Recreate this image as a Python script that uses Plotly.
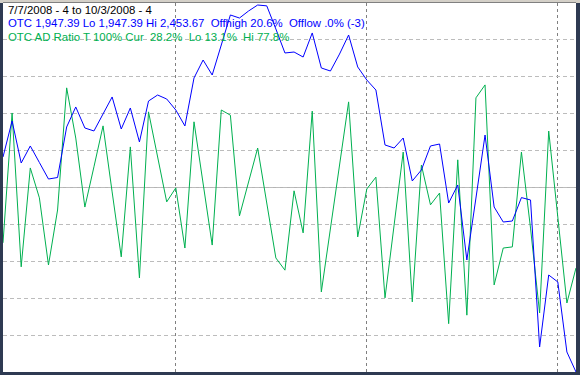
import plotly.graph_objects as go
import pandas as pd

# Trading days 7/7/2008 .. 10/3/2008 (Labor Day 9/1 closed)
dates = [d.strftime("%m/%d/%Y") for d in pd.bdate_range("2008-07-07", "2008-10-03") if d.strftime("%Y-%m-%d") != "2008-09-01"]

# OTC (Nasdaq composite) closes
otc_close = [2244.0, 2293.7, 2235.7, 2259.2, 2236.4, 2213.6, 2215.7, 2285.4, 2313.0, 2284.0,
             2279.9, 2303.3, 2326.8, 2282.6, 2311.6, 2264.7, 2321.2, 2329.5, 2324.0, 2308.8,
             2286.8, 2353.0, 2377.8, 2357.1, 2398.5, 2439.9, 2435.7, 2445.4, 2453.67, 2452.5,
             2420.6, 2387.5, 2388.8, 2381.9, 2415.1, 2366.8, 2362.6, 2386.0, 2412.3, 2368.2,
             2350.2, 2336.4, 2260.6, 2256.4, 2270.2, 2210.9, 2226.1, 2259.2, 2261.9, 2180.5,
             2205.4, 2101.9, 2187.4, 2274.3, 2175.0, 2154.3, 2155.7, 2188.0, 2184.7, 1981.9,
             2081.2, 2071.6, 1975.0, 1947.39]

# OTC advance/decline ratio (%)
ad_ratio = [35.0, 70.2, 28.5, 55.3, 47.2, 29.0, 43.9, 77.0, 63.4, 44.7,
            55.6, 66.7, 48.8, 31.2, 61.0, 25.5, 70.5, 58.0, 46.1, 49.9,
            33.6, 67.8, 51.2, 34.4, 71.0, 69.6, 42.3, 51.5, 60.7, 45.8,
            30.9, 27.6, 49.1, 37.7, 70.7, 21.7, 38.8, 55.8, 73.2, 36.6,
            49.6, 52.8, 20.1, 39.8, 59.6, 19.0, 56.1, 45.3, 48.5, 13.1,
            57.5, 15.4, 74.3, 77.8, 23.6, 33.6, 33.9, 59.6, 39.0, 16.0,
            65.3, 42.0, 18.7, 28.2]

title_lines = [
    ("7/7/2008 - 4 to 10/3/2008 - 4", "#000000"),
    ("OTC 1,947.39 Lo 1,947.39 Hi 2,453.67  Offhigh 20.6%  Offlow .0% (-3)", "#0000ff"),
    ("OTC AD Ratio T 100% Cur  28.2%  Lo 13.1%  Hi 77.8%", "#00b050"),
]

W, H = 580, 375
ml, mr, mt, mb = 3, 4, 3, 3
pw, ph = W - ml - mr, H - mt - mb

x = list(range(len(dates)))
month_starts = [i for i in range(1, len(dates)) if dates[i][:2] != dates[i - 1][:2]]

fig = go.Figure()
fig.add_trace(go.Scatter(x=x, y=ad_ratio, mode="lines", line=dict(color="#00b050", width=1),
                         yaxis="y", showlegend=False, hoverinfo="skip"))
fig.add_trace(go.Scatter(x=x, y=otc_close, mode="lines", line=dict(color="#0000ff", width=1),
                         yaxis="y2", showlegend=False, hoverinfo="skip"))

lo, hi = 1947.39, 2453.67
per_px = (hi - lo) / 367.0
y2_range = [lo, hi + 2 * per_px]

fig.update_layout(
    width=W, height=H,
    margin=dict(l=ml, r=mr, t=mt, b=mb, pad=0),
    paper_bgcolor="#2e3a52",
    plot_bgcolor="#ffffff",
    xaxis=dict(range=[0, len(dates) - 1], tickvals=month_starts, showticklabels=False, ticks="",
               showgrid=True, gridcolor="#808080", griddash="3px,3px", gridwidth=1,
               zeroline=False, showline=False, fixedrange=True),
    yaxis=dict(range=[0, 100], dtick=10, showticklabels=False, ticks="",
               showgrid=True, gridcolor="#bcbcbc", griddash="4px,3px", gridwidth=1,
               zeroline=False, showline=False),
    yaxis2=dict(range=y2_range, overlaying="y", showgrid=False, showticklabels=False,
                ticks="", zeroline=False, showline=False),
    shapes=[
        dict(type="line", xref="paper", yref="y", x0=0, x1=1, y0=50, y1=50,
             line=dict(color="#b4b4b4", width=1), layer="below"),
        # top frame band
        dict(type="rect", xref="paper", yref="paper", x0=-ml / pw, x1=1 + mr / pw,
             y0=1, y1=1 + mt / ph, fillcolor="#d4d0c8", line=dict(width=0)),
        dict(type="line", xref="paper", yref="paper", x0=0, x1=1, y0=1 + 0.5 / ph, y1=1 + 0.5 / ph,
             line=dict(color="#808080", width=1)),
    ],
)

for k, (txt, col) in enumerate(title_lines):
    ypix = 9.5 + 13.5 * k
    fig.add_annotation(text=txt, xref="paper", yref="paper", x=(6 - ml) / pw,
                       y=(H - mb - ypix) / ph, xanchor="left", yanchor="middle",
                       showarrow=False, font=dict(family="Liberation Sans", size=11.4, color=col))

fig.write_html("out.html")
